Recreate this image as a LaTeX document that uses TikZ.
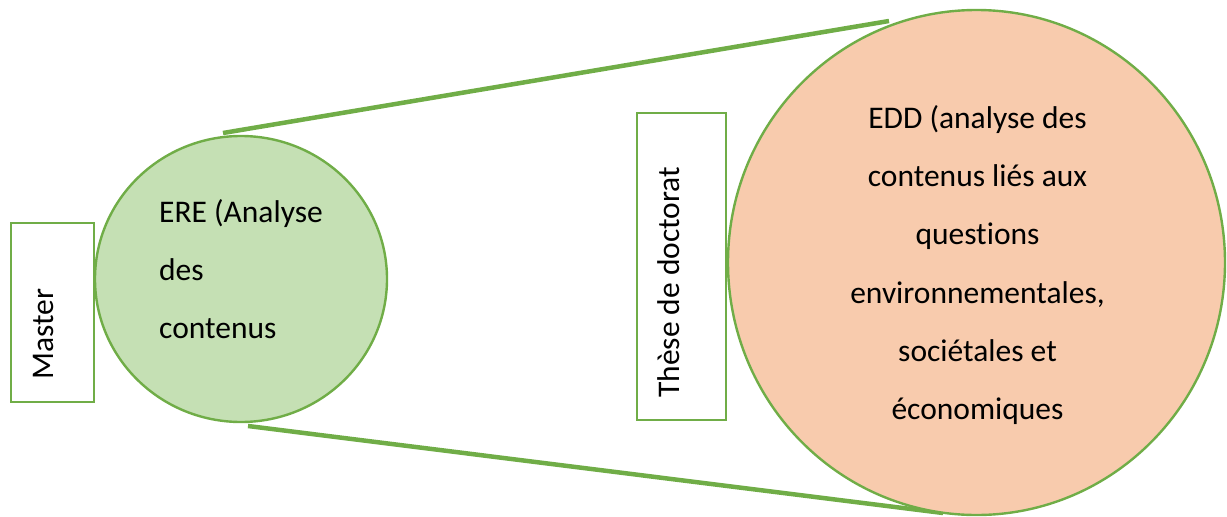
\documentclass[tikz,border=0pt]{standalone}
\usepackage{fontspec}
\setmainfont{Carlito}[Ligatures={NoCommon,NoRare,NoContextual}]
\usetikzlibrary{shapes.geometric}
\definecolor{grn}{HTML}{70AD47}
\definecolor{lgrn}{HTML}{C5E0B4}
\definecolor{peach}{HTML}{F8CBAD}
\tikzset{
  lbl/.style={font=\fontsize{31.5}{38}\selectfont, inner sep=0pt, text=black},
  framebox/.style={draw=grn, line width=2.4pt, fill=white, rectangle, inner sep=0pt},
  bubble/.style={draw=grn, line width=2.4pt, ellipse, inner sep=0pt},
  link/.style={draw=grn, line width=4.5pt}
}
\begin{document}
\begin{tikzpicture}[x=1pt,y=-1pt]
\useasboundingbox (0,0) rectangle (1227,517);
% connector end points
\coordinate (t1) at (223,133);
\coordinate (t2) at (889,21);
\coordinate (b1) at (248,426);
\coordinate (b2) at (943,513);
\draw[link] (t1) -- (t2);
\draw[link] (b1) -- (b2);
% boxes
\node[framebox, minimum width=83pt, minimum height=179pt] (master) at (52.5,312.5) {};
\node[framebox, minimum width=89pt, minimum height=307pt] (these) at (681.5,266.5) {};
% circles
\node[bubble, fill=lgrn, minimum width=292pt, minimum height=286pt] (ere) at (241,279) {};
\node[bubble, fill=peach, minimum width=497pt, minimum height=505pt] (edd) at (976.5,262.5) {};
% rotated labels
\node[lbl, rotate=90, anchor=base west] (mastertxt) at (53,380) {Master};
\node[lbl, rotate=90, anchor=base west] (thesetxt) at (679,398) {Thèse de doctorat};
% ERE text
\node[lbl, anchor=base west] (e1) at (159,222) {ERE (Analyse};
\node[lbl, anchor=base west] (e2) at (159,280) {des};
\node[lbl, anchor=base west] (e3) at (159,338) {contenus};
% EDD text
\node[lbl, anchor=base] (d1) at (977.5,128) {EDD (analyse des};
\node[lbl, anchor=base] (d2) at (977.5,186.3) {contenus liés aux};
\node[lbl, anchor=base] (d3) at (977.5,244.7) {questions};
\node[lbl, anchor=base] (d4) at (977.5,303) {environnementales,};
\node[lbl, anchor=base] (d5) at (977.5,361.3) {sociétales et};
\node[lbl, anchor=base] (d6) at (977.5,419.7) {économiques};
\end{tikzpicture}
\end{document}
